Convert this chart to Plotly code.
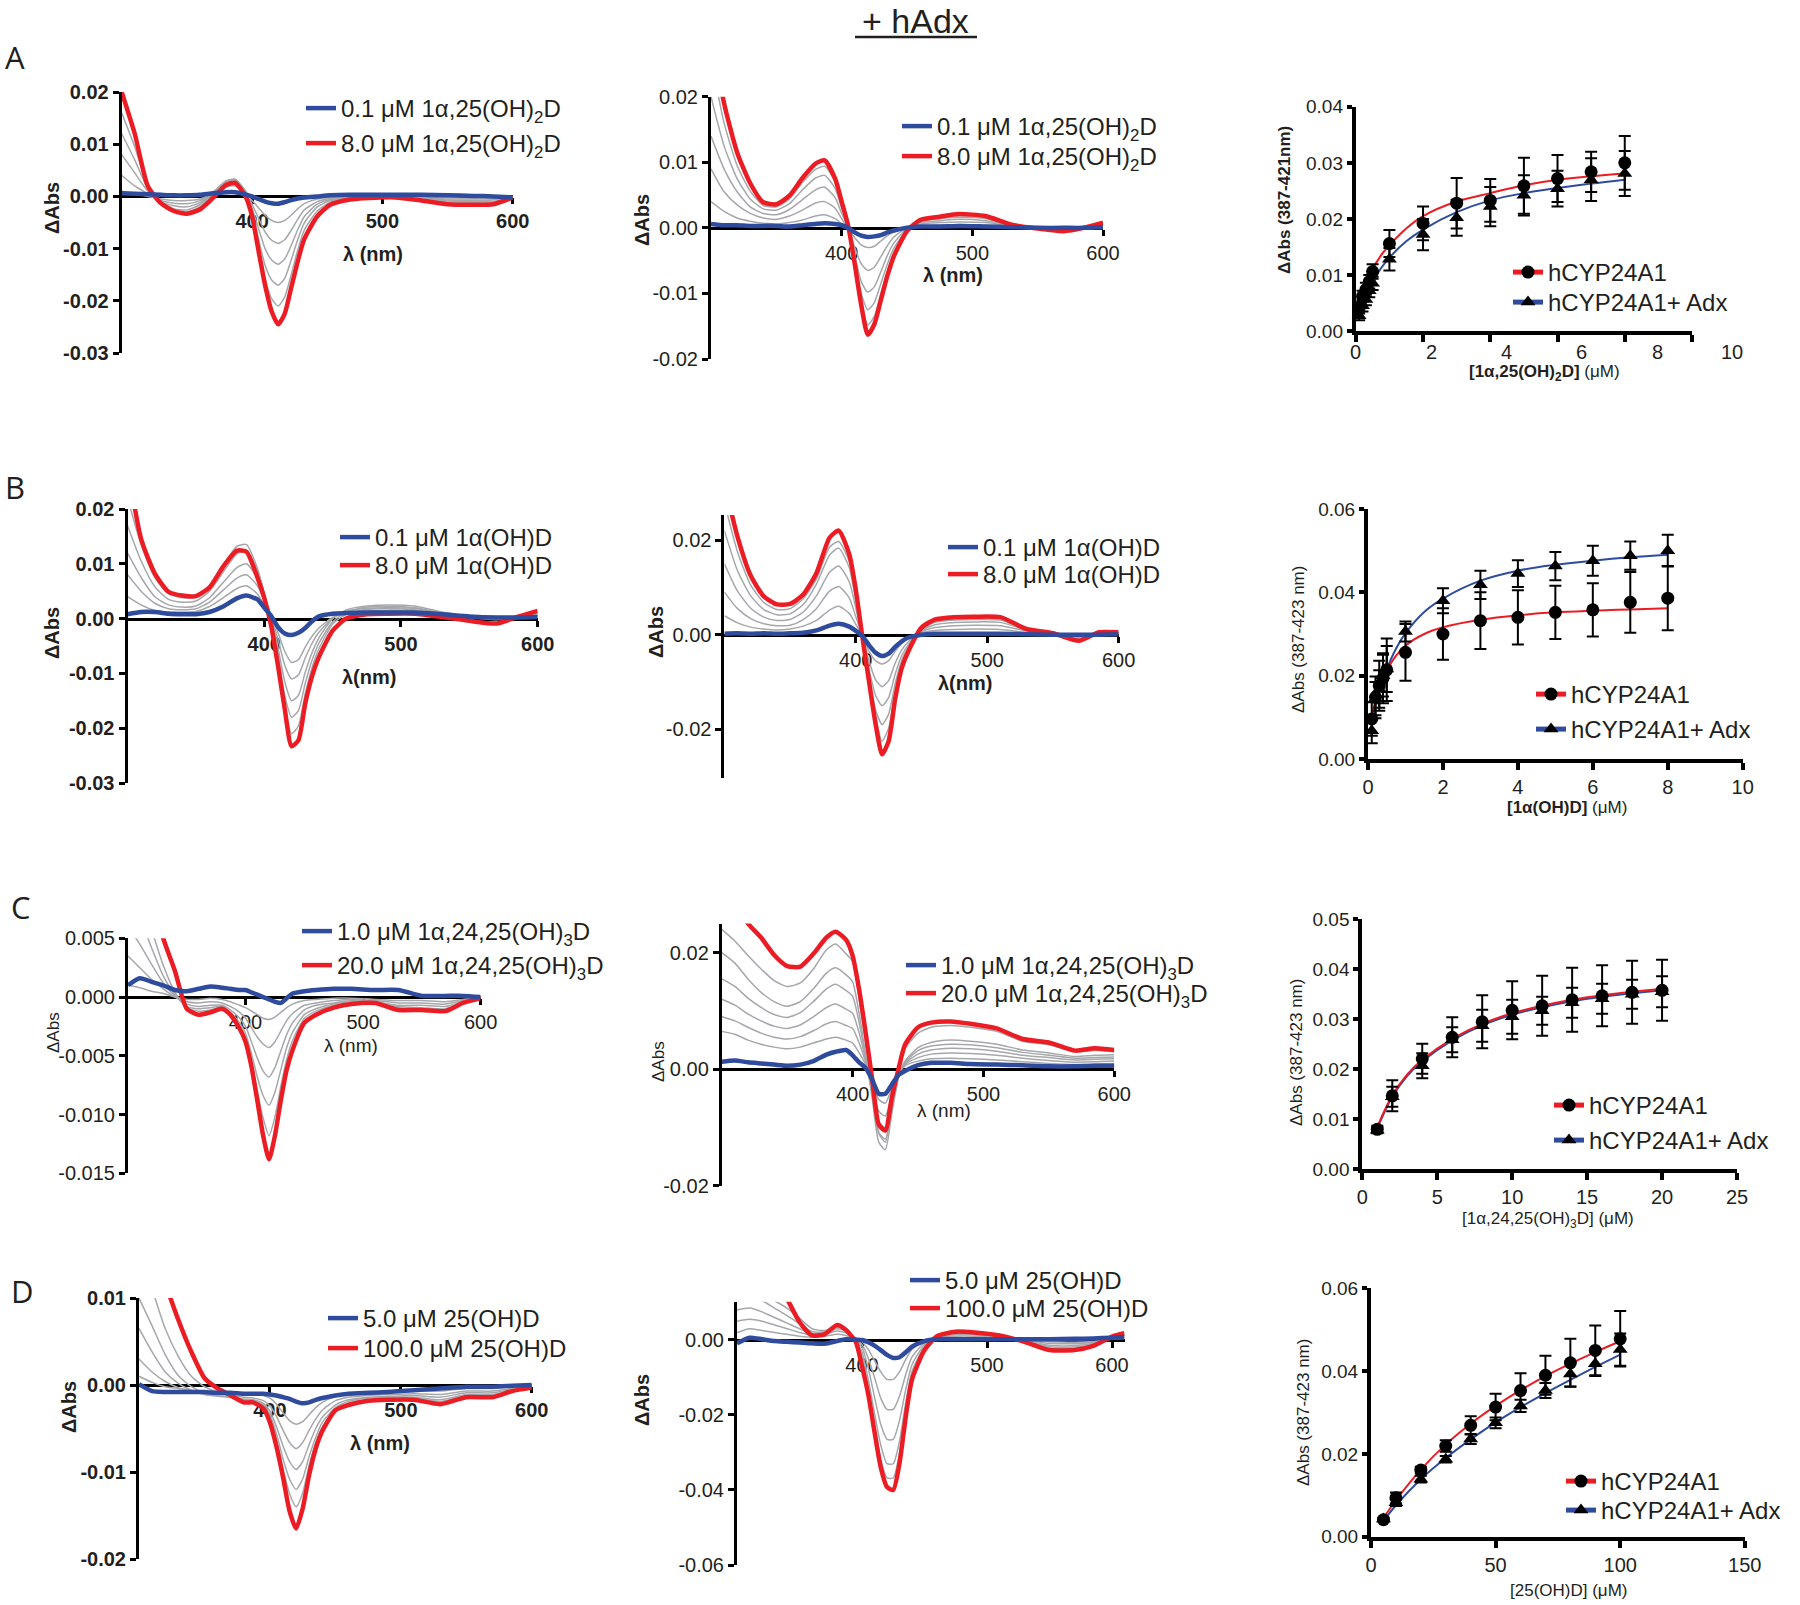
import plotly.graph_objects as go

W, H = 1800, 1605
FONT = "Liberation Sans, Arial, sans-serif"
INK = "#231f20"
RED = "#ec1c24"
BLUE = "#2f4b9d"
GRAY = "#a5a7aa"

WL = [300, 310, 320, 330, 340, 350, 360, 370, 380, 387, 395, 400, 405, 410, 415,
      420, 425, 430, 435, 440, 450, 460, 475, 490, 510, 530, 550, 570, 585, 600]
WL_D2 = WL + [610]

# ---- A: 1a,25(OH)2D ----
A1_RED = [0.020, 0.012, 0.002, -0.0013, -0.0028, -0.0033, -0.0025, -0.0003, 0.0022, 0.0026, 0.0, -0.0038, -0.0105, -0.017, -0.022,
          -0.0245, -0.0225, -0.0175, -0.0125, -0.0082, -0.0038, -0.0016, -0.0006, -0.0003, -0.0002, -0.0008, -0.0015, -0.0016, -0.0015, -0.0002]
A1_BLUE = [0.0006, 0.0005, 0.0004, 0.0003, 0.0002, 0.0002, 0.0003, 0.0006, 0.0008, 0.0008, 0.0004, 0.0, -0.0005, -0.001, -0.0013,
           -0.0014, -0.0011, -0.0007, -0.0004, -0.0002, 0.0, 0.0002, 0.0003, 0.0003, 0.0003, 0.0003, 0.0002, 0.0001, 0.0, -0.0002]
A1_GRAY = [
    [0.001, 0.0005, 0.0, -0.0005, -0.0008, -0.0008, -0.0005, 0.0005, 0.0018, 0.002, 0.0005, -0.0008, -0.0022, -0.0036, -0.0046,
     -0.005, -0.0046, -0.0036, -0.0024, -0.0014, -0.0005, -0.0002, 0.0, 0.0001, 0.0001, 0.0, -0.0002, -0.0003, -0.0002, 0.0],
    [0.004, 0.002, 0.0005, -0.0008, -0.0013, -0.0014, -0.0008, 0.0008, 0.0026, 0.0029, 0.001, -0.0015, -0.0042, -0.0068, -0.0084,
     -0.009, -0.0083, -0.0065, -0.0044, -0.0026, -0.001, -0.0004, -0.0001, 0.0, 0.0, -0.0002, -0.0005, -0.0005, -0.0005, 0.0],
    [0.008, 0.0045, 0.001, -0.001, -0.0018, -0.002, -0.0012, 0.0008, 0.0029, 0.0032, 0.001, -0.0022, -0.0062, -0.0100, -0.0122,
     -0.013, -0.012, -0.0094, -0.0064, -0.0039, -0.0015, -0.0006, -0.0003, -0.0001, 0.0, -0.0003, -0.0007, -0.0008, -0.0007, 0.0],
    [0.012, 0.007, 0.0015, -0.0012, -0.0024, -0.0026, -0.0016, 0.0006, 0.003, 0.0033, 0.0009, -0.003, -0.0082, -0.0132, -0.016,
     -0.017, -0.0157, -0.0122, -0.0083, -0.0051, -0.002, -0.0008, -0.0004, -0.0002, -0.0001, -0.0004, -0.0009, -0.001, -0.001, -0.0001],
    [0.016, 0.0095, 0.002, -0.0014, -0.0027, -0.003, -0.002, 0.0003, 0.0029, 0.0032, 0.0007, -0.0035, -0.0098, -0.0158, -0.0196,
     -0.021, -0.0193, -0.015, -0.0103, -0.0065, -0.0028, -0.0011, -0.0005, -0.0002, -0.0001, -0.0005, -0.0011, -0.0012, -0.0012, -0.0001],
]
A2_RED = [0.030, 0.019, 0.0115, 0.0068, 0.0039, 0.0036, 0.0049, 0.0076, 0.0098, 0.0103, 0.0075, 0.004, 0.0003, -0.0055, -0.0118,
          -0.0163, -0.0147, -0.011, -0.0073, -0.0043, -0.0005, 0.0012, 0.0017, 0.0021, 0.0018, 0.0005, -0.0001, -0.0005, 0.0, 0.0008]
A2_BLUE = [0.0006, 0.0004, 0.0004, 0.0003, 0.0003, 0.0003, 0.0002, 0.0004, 0.0006, 0.0007, 0.0006, 0.0004, 0.0, -0.0007, -0.0012,
           -0.0014, -0.0013, -0.0011, -0.0007, -0.0004, 0.0, 0.0002, 0.0002, 0.0003, 0.0002, 0.0001, 0.0, 0.0, 0.0, 0.0001]
A2_GRAY = [
    [0.004, 0.0025, 0.0015, 0.001, 0.0007, 0.0006, 0.0008, 0.0012, 0.0018, 0.002, 0.0014, 0.0006, -0.0003, -0.0015, -0.0026,
     -0.003, -0.0028, -0.002, -0.0012, -0.0006, 0.0, 0.0003, 0.0004, 0.0005, 0.0004, 0.0002, 0.0, -0.0001, 0.0, 0.0002],
    [0.009, 0.0055, 0.0035, 0.0022, 0.0015, 0.0013, 0.0018, 0.0027, 0.0038, 0.004, 0.003, 0.0014, -0.0002, -0.003, -0.0055,
     -0.0065, -0.006, -0.0044, -0.0027, -0.0014, 0.0, 0.0006, 0.0008, 0.0009, 0.0008, 0.0003, 0.0, -0.0002, 0.0, 0.0003],
    [0.014, 0.009, 0.0055, 0.0032, 0.0022, 0.002, 0.0028, 0.0043, 0.0058, 0.0062, 0.0046, 0.0022, -0.0001, -0.0042, -0.0082,
     -0.0098, -0.009, -0.0067, -0.0042, -0.0023, -0.0001, 0.0008, 0.0011, 0.0013, 0.0011, 0.0004, 0.0, -0.0003, 0.0, 0.0004],
    [0.020, 0.0125, 0.0075, 0.0044, 0.0029, 0.0027, 0.0037, 0.0058, 0.0076, 0.008, 0.006, 0.003, 0.0001, -0.005, -0.0100,
     -0.0125, -0.0114, -0.0085, -0.0055, -0.0031, -0.0003, 0.001, 0.0014, 0.0016, 0.0014, 0.0004, 0.0, -0.0004, 0.0, 0.0005],
    [0.026, 0.016, 0.0095, 0.0056, 0.0034, 0.0032, 0.0044, 0.0069, 0.0089, 0.0094, 0.007, 0.0036, 0.0002, -0.0053, -0.0112,
     -0.0148, -0.0135, -0.0100, -0.0066, -0.0038, -0.0004, 0.0011, 0.0016, 0.0019, 0.0016, 0.0005, 0.0, -0.0005, 0.0, 0.0006],
]

# ---- B: 1a(OH)D ----
B1_RED = [0.028, 0.0145, 0.0082, 0.0049, 0.0042, 0.0041, 0.0057, 0.0095, 0.0124, 0.0122, 0.0075, 0.0038, -0.0012, -0.0085, -0.0165,
          -0.0233, -0.0222, -0.0155, -0.0105, -0.007, -0.0022, 0.0, 0.0008, 0.0009, 0.0009, 0.0003, -0.0004, -0.0009, 0.0003, 0.0014]
B1_BLUE = [0.0008, 0.0012, 0.0012, 0.0009, 0.0008, 0.0008, 0.0012, 0.0022, 0.0037, 0.0042, 0.0035, 0.002, 0.0005, -0.0015, -0.0027,
           -0.003, -0.0026, -0.0017, -0.0005, 0.0004, 0.0009, 0.001, 0.0011, 0.0011, 0.0011, 0.0008, 0.0004, 0.0002, 0.0002, 0.0003]
B1_GRAY = [
    [0.004, 0.0025, 0.0015, 0.0012, 0.0012, 0.0013, 0.0022, 0.0038, 0.0055, 0.006, 0.0045, 0.0025, 0.0005, -0.0025, -0.006,
     -0.008, -0.0075, -0.0052, -0.0032, -0.0017, 0.0002, 0.001, 0.0014, 0.0015, 0.0014, 0.0008, 0.0003, 0.0001, 0.0002, 0.0003],
    [0.008, 0.005, 0.0028, 0.0018, 0.0016, 0.0018, 0.003, 0.0052, 0.0074, 0.008, 0.006, 0.0033, 0.0004, -0.0037, -0.0085,
     -0.011, -0.0103, -0.0072, -0.0045, -0.0025, 0.0001, 0.0013, 0.0019, 0.002, 0.0019, 0.001, 0.0004, 0.0001, 0.0002, 0.0004],
    [0.012, 0.0075, 0.004, 0.0025, 0.0021, 0.0023, 0.0038, 0.0066, 0.0093, 0.010, 0.0074, 0.004, 0.0003, -0.0052, -0.0115,
     -0.015, -0.014, -0.0098, -0.0062, -0.0035, 0.0, 0.0016, 0.0023, 0.0025, 0.0023, 0.0012, 0.0004, 0.0001, 0.0003, 0.0005],
    [0.017, 0.0105, 0.0058, 0.0035, 0.003, 0.0032, 0.005, 0.0085, 0.0118, 0.0125, 0.0088, 0.0046, 0.0, -0.0065, -0.0140,
     -0.018, -0.0168, -0.0118, -0.0076, -0.0045, -0.0006, 0.0012, 0.0021, 0.0022, 0.002, 0.001, 0.0003, 0.0, 0.0003, 0.0006],
    [0.022, 0.0135, 0.0075, 0.0045, 0.0038, 0.0039, 0.0058, 0.0097, 0.0132, 0.0135, 0.0092, 0.0046, -0.0005, -0.0077, -0.0162,
     -0.021, -0.0196, -0.0137, -0.0089, -0.0055, -0.001, 0.0008, 0.0017, 0.0018, 0.0016, 0.0007, 0.0002, -0.0002, 0.0003, 0.0008],
]
B2_RED = [0.032, 0.0207, 0.0125, 0.0081, 0.0064, 0.0065, 0.0085, 0.0130, 0.0205, 0.0220, 0.017, 0.0095, -0.0005, -0.0098, -0.0188,
          -0.0253, -0.0225, -0.0135, -0.007, -0.0035, 0.0015, 0.0032, 0.0037, 0.0038, 0.0037, 0.0012, 0.0003, -0.0013, 0.0005, 0.0005]
B2_BLUE = [0.0002, 0.0003, 0.0002, 0.0003, 0.0002, 0.0003, 0.0004, 0.0009, 0.0019, 0.0023, 0.0017, 0.0008, -0.0003, -0.0022, -0.0038,
           -0.0045, -0.004, -0.0026, -0.0014, -0.0006, 0.0, 0.0002, 0.0002, 0.0002, 0.0002, 0.0001, 0.0, 0.0, 0.0, 0.0001]
B2_GRAY = [
    [0.004, 0.0025, 0.0016, 0.0012, 0.001, 0.0012, 0.0018, 0.003, 0.0052, 0.006, 0.0045, 0.0022, -0.0003, -0.0035, -0.0055,
     -0.0062, -0.0055, -0.0035, -0.0018, -0.0008, 0.0004, 0.0009, 0.0011, 0.0012, 0.0011, 0.0005, 0.0001, -0.0002, 0.0, 0.0002],
    [0.009, 0.0055, 0.0034, 0.0023, 0.0019, 0.002, 0.0032, 0.0055, 0.0092, 0.0102, 0.0078, 0.0038, -0.0003, -0.0055, -0.0095,
     -0.011, -0.0097, -0.006, -0.0032, -0.0015, 0.0006, 0.0015, 0.0019, 0.002, 0.0019, 0.0008, 0.0002, -0.0004, 0.0002, 0.0003],
    [0.015, 0.0092, 0.0056, 0.0037, 0.003, 0.0032, 0.0048, 0.0082, 0.0132, 0.0145, 0.0112, 0.0056, -0.0004, -0.0072, -0.0128,
     -0.015, -0.0133, -0.0083, -0.0044, -0.0021, 0.0008, 0.0021, 0.0026, 0.0027, 0.0026, 0.001, 0.0002, -0.0006, 0.0003, 0.0004],
    [0.022, 0.0135, 0.0082, 0.0053, 0.0042, 0.0044, 0.0064, 0.0107, 0.0168, 0.0183, 0.0142, 0.0072, -0.0004, -0.0085, -0.0158,
     -0.019, -0.0168, -0.0103, -0.0054, -0.0026, 0.001, 0.0026, 0.0031, 0.0032, 0.0031, 0.0011, 0.0002, -0.0008, 0.0004, 0.0004],
    [0.028, 0.0175, 0.0105, 0.0068, 0.0053, 0.0055, 0.0076, 0.0118, 0.0185, 0.0197, 0.0155, 0.008, -0.0004, -0.0092, -0.0172,
     -0.0225, -0.0198, -0.0120, -0.0063, -0.003, 0.0012, 0.0029, 0.0034, 0.0035, 0.0034, 0.0011, 0.0003, -0.001, 0.0004, 0.0005],
]

# ---- C: 1a,24,25(OH)3D ----
C1_RED = [0.018, 0.013, 0.009, 0.005, 0.0022, -0.001, -0.0015, -0.0013, -0.001, -0.0015, -0.0027, -0.0038, -0.0059, -0.0088, -0.0118,
          -0.0138, -0.0118, -0.0088, -0.0062, -0.0045, -0.0022, -0.0015, -0.0009, -0.0006, -0.0005, -0.0011, -0.0011, -0.0012, -0.0005, -0.0001]
C1_BLUE = [0.001, 0.0016, 0.0013, 0.001, 0.0006, 0.0005, 0.0007, 0.0009, 0.0008, 0.0007, 0.0006, 0.0006, 0.0004, 0.0002, 0.0,
           -0.0002, -0.0004, -0.0005, -0.0001, 0.0003, 0.0005, 0.0006, 0.0007, 0.0007, 0.0006, 0.0006, 0.0001, 0.0001, 0.0001, 0.0]
C1_GRAY = [
    [0.001, 0.0008, 0.0005, 0.0003, 0.0, -0.0002, -0.0002, -0.0001, -0.0002, -0.0004, -0.0007, -0.0009, -0.0012, -0.0015, -0.0018,
     -0.0019, -0.0017, -0.0013, -0.0009, -0.0006, -0.0003, -0.0002, -0.0001, -0.0001, -0.0002, -0.0003, -0.0003, -0.0004, -0.0002, 0.0],
    [0.0035, 0.0025, 0.0015, 0.0007, 0.0, -0.0004, -0.0005, -0.0004, -0.0005, -0.0008, -0.0013, -0.0018, -0.0026, -0.0034, -0.004,
     -0.0043, -0.0038, -0.0029, -0.002, -0.0014, -0.0007, -0.0005, -0.0003, -0.0002, -0.0003, -0.0005, -0.0005, -0.0006, -0.0003, 0.0],
    [0.006, 0.0045, 0.0028, 0.0012, 0.0001, -0.0006, -0.0008, -0.0007, -0.0007, -0.0011, -0.0018, -0.0025, -0.0038, -0.0052, -0.0063,
     -0.0068, -0.006, -0.0046, -0.0032, -0.0022, -0.0011, -0.0007, -0.0005, -0.0003, -0.0004, -0.0007, -0.0007, -0.0008, -0.0004, 0.0],
    [0.009, 0.0068, 0.0042, 0.0018, 0.0002, -0.0008, -0.001, -0.0009, -0.0008, -0.0013, -0.0022, -0.0031, -0.0048, -0.0068, -0.0084,
     -0.0092, -0.0081, -0.0062, -0.0043, -0.003, -0.0015, -0.001, -0.0006, -0.0004, -0.0004, -0.0008, -0.0009, -0.001, -0.0005, 0.0],
    [0.012, 0.0092, 0.0058, 0.0027, 0.0004, -0.0009, -0.0012, -0.0011, -0.0009, -0.0014, -0.0025, -0.0035, -0.0054, -0.0080, -0.0103,
     -0.0118, -0.0102, -0.0076, -0.0053, -0.0037, -0.0018, -0.0012, -0.0007, -0.0005, -0.0005, -0.0009, -0.001, -0.0011, -0.0005, 0.0],
]
C2_RED = [0.034, 0.029, 0.025, 0.0226, 0.0196, 0.0177, 0.0176, 0.0198, 0.0226, 0.0236, 0.0222, 0.0195, 0.0136, 0.0062, -0.0018,
          -0.0095, -0.0105, -0.0048, 0.0, 0.0042, 0.0072, 0.008, 0.0082, 0.0078, 0.007, 0.0052, 0.0046, 0.0032, 0.0036, 0.0033]
C2_BLUE = [0.0013, 0.0015, 0.0012, 0.001, 0.0008, 0.0006, 0.0008, 0.0014, 0.0025, 0.003, 0.0033, 0.0024, 0.0012, 0.0002, -0.0018,
           -0.0042, -0.0042, -0.0026, -0.001, -0.0003, 0.0007, 0.0011, 0.0011, 0.0009, 0.0008, 0.0007, 0.0005, 0.0005, 0.0006, 0.0006]
C2_GRAY = [
    [0.0065, 0.006, 0.005, 0.0043, 0.0038, 0.0035, 0.0038, 0.0045, 0.0052, 0.0055, 0.005, 0.0045, 0.0028, 0.0008, -0.0022,
     -0.0052, -0.0058, -0.0032, -0.0008, 0.0006, 0.0014, 0.0018, 0.0019, 0.0018, 0.0016, 0.0013, 0.001, 0.0008, 0.0009, 0.001],
    [0.009, 0.0083, 0.0072, 0.0062, 0.0055, 0.0052, 0.0056, 0.0066, 0.0078, 0.0082, 0.0075, 0.007, 0.0045, 0.0012, -0.003,
     -0.0072, -0.008, -0.0044, -0.001, 0.0008, 0.002, 0.0026, 0.0028, 0.0027, 0.0024, 0.0019, 0.0015, 0.0012, 0.0013, 0.0014],
    [0.012, 0.011, 0.0095, 0.0083, 0.0074, 0.007, 0.0076, 0.009, 0.0106, 0.0112, 0.0103, 0.0096, 0.0062, 0.0016, -0.0038,
     -0.009, -0.0100, -0.0055, -0.0012, 0.001, 0.0026, 0.0033, 0.0036, 0.0035, 0.0031, 0.0024, 0.002, 0.0016, 0.0017, 0.0018],
    [0.0155, 0.0142, 0.0122, 0.0106, 0.0094, 0.0089, 0.0097, 0.0116, 0.0138, 0.0146, 0.0135, 0.0125, 0.008, 0.002, -0.0045,
     -0.0108, -0.012, -0.0066, -0.0014, 0.0012, 0.0032, 0.004, 0.0043, 0.0042, 0.0037, 0.0029, 0.0024, 0.0019, 0.002, 0.0021],
    [0.020, 0.0182, 0.0155, 0.0132, 0.0116, 0.0108, 0.0116, 0.0138, 0.0165, 0.0174, 0.0162, 0.015, 0.0095, 0.0024, -0.005,
     -0.0125, -0.0138, -0.0075, -0.0015, 0.0014, 0.0037, 0.0046, 0.005, 0.0048, 0.0043, 0.0033, 0.0028, 0.0022, 0.0024, 0.0025],
    [0.024, 0.022, 0.0195, 0.0172, 0.0152, 0.0142, 0.0148, 0.0172, 0.0205, 0.0215, 0.0198, 0.0185, 0.012, 0.0045, -0.0035,
     -0.011, -0.0125, -0.0062, -0.0004, 0.0035, 0.0062, 0.0072, 0.0075, 0.0072, 0.0065, 0.0048, 0.0042, 0.003, 0.0032, 0.003],
]

# ---- D: 25(OH)D ----
D1_RED = [0.022, 0.017, 0.0118, 0.0075, 0.0038, 0.0008, -0.0004, -0.0012, -0.002, -0.002, -0.0027, -0.0043, -0.0071, -0.0106, -0.0145,
          -0.0165, -0.0142, -0.0103, -0.0073, -0.0053, -0.0029, -0.0023, -0.0018, -0.0017, -0.0017, -0.0022, -0.0014, -0.0014, -0.0007, -0.0003]
D1_BLUE = [0.0001, -0.0007, -0.0008, -0.0008, -0.0008, -0.0008, -0.0009, -0.0009, -0.001, -0.001, -0.001, -0.0011, -0.0012, -0.0014, -0.0016,
           -0.0019, -0.0021, -0.002, -0.0017, -0.0015, -0.0012, -0.001, -0.0009, -0.0008, -0.0006, -0.0004, -0.0002, -0.0002, -0.0001, 0.0]
D1_GRAY = [
    [0.001, 0.0003, -0.0002, -0.0004, -0.0006, -0.0008, -0.0008, -0.0009, -0.001, -0.001, -0.0012, -0.0015, -0.0022, -0.0032, -0.0041,
     -0.0045, -0.0042, -0.0034, -0.0026, -0.002, -0.0013, -0.001, -0.0009, -0.0008, -0.0007, -0.0007, -0.0004, -0.0004, -0.0002, 0.0],
    [0.003, 0.0015, 0.0004, -0.0003, -0.0007, -0.001, -0.0011, -0.0012, -0.0014, -0.0015, -0.0018, -0.0024, -0.0036, -0.0052, -0.0066,
     -0.0073, -0.0066, -0.0052, -0.0039, -0.0029, -0.0018, -0.0014, -0.0012, -0.0011, -0.001, -0.0011, -0.0007, -0.0007, -0.0004, 0.0],
    [0.0065, 0.0038, 0.0015, 0.0002, -0.0006, -0.0011, -0.0013, -0.0014, -0.0016, -0.0017, -0.0021, -0.003, -0.0048, -0.007, -0.0088,
     -0.0097, -0.0088, -0.0068, -0.005, -0.0037, -0.0023, -0.0017, -0.0014, -0.0013, -0.0012, -0.0014, -0.0009, -0.0009, -0.0005, -0.0001],
    [0.010, 0.0068, 0.0035, 0.0011, -0.0002, -0.0009, -0.0012, -0.0014, -0.0017, -0.0018, -0.0023, -0.0034, -0.0056, -0.0085, -0.0108,
     -0.0120, -0.0108, -0.0082, -0.006, -0.0043, -0.0026, -0.0019, -0.0015, -0.0014, -0.0014, -0.0017, -0.0011, -0.0011, -0.0006, -0.0002],
    [0.015, 0.011, 0.0065, 0.0033, 0.001, -0.0002, -0.0008, -0.0012, -0.0017, -0.0018, -0.0024, -0.0037, -0.0062, -0.0096, -0.0125,
     -0.0140, -0.0124, -0.0092, -0.0066, -0.0048, -0.0028, -0.0021, -0.0017, -0.0016, -0.0015, -0.0019, -0.0012, -0.0012, -0.0006, -0.0002],
]
D2_RED = [0.04, 0.032, 0.024, 0.017, 0.011, 0.0048, 0.0012, 0.0015, 0.004, 0.0027, -0.0005, -0.007, -0.0145, -0.0245, -0.034,
          -0.0392, -0.040, -0.0329, -0.0205, -0.0105, -0.0027, 0.001, 0.0022, 0.002, 0.0012, -0.0005, -0.0027, -0.0027, -0.0016, 0.0009, 0.0018]
D2_BLUE = [-0.0009, 0.0006, 0.0002, -0.0003, -0.0005, -0.0007, -0.0009, -0.001, -0.0003, 0.0002, 0.0001, 0.0, -0.0006, -0.0015, -0.0027,
           -0.004, -0.0048, -0.0046, -0.0033, -0.0018, -0.0003, 0.0002, 0.0002, 0.0002, 0.0002, 0.0002, 0.0002, 0.0003, 0.0004, 0.0006, 0.0007]
D2_GRAY = [
    [0.002, 0.003, 0.0025, 0.002, 0.0015, 0.001, 0.0007, 0.001, 0.0015, 0.0012, 0.0003, -0.0005, -0.0025, -0.0055, -0.0085,
     -0.0105, -0.0105, -0.0085, -0.0052, -0.0025, -0.0004, 0.0004, 0.0006, 0.0006, 0.0004, 0.0, -0.0005, -0.0006, -0.0004, 0.0002, 0.0004],
    [0.005, 0.0055, 0.005, 0.004, 0.003, 0.002, 0.0012, 0.0015, 0.0024, 0.0019, 0.0003, -0.0012, -0.0048, -0.01, -0.0155,
     -0.0185, -0.0185, -0.015, -0.0092, -0.0045, -0.0008, 0.0006, 0.001, 0.001, 0.0007, 0.0, -0.0009, -0.001, -0.0006, 0.0003, 0.0007],
    [0.008, 0.0085, 0.0075, 0.006, 0.0045, 0.003, 0.0017, 0.002, 0.003, 0.0024, 0.0002, -0.002, -0.0075, -0.0152, -0.0225,
     -0.0265, -0.0265, -0.0215, -0.0132, -0.0066, -0.0013, 0.0008, 0.0014, 0.0014, 0.0009, -0.0001, -0.0014, -0.0015, -0.0009, 0.0004, 0.001],
    [0.011, 0.0115, 0.0105, 0.0085, 0.0065, 0.0043, 0.0022, 0.0022, 0.0034, 0.0027, 0.0, -0.0032, -0.0105, -0.0195, -0.028,
     -0.033, -0.033, -0.027, -0.0167, -0.0084, -0.0018, 0.0009, 0.0017, 0.0016, 0.001, -0.0002, -0.0018, -0.0019, -0.0012, 0.0005, 0.0012],
    [0.015, 0.0145, 0.013, 0.0105, 0.0085, 0.0058, 0.003, 0.0025, 0.0037, 0.0028, -0.0002, -0.0045, -0.0125, -0.0225, -0.0318,
     -0.0368, -0.0368, -0.0302, -0.0187, -0.0095, -0.0022, 0.001, 0.0019, 0.0018, 0.0011, -0.0003, -0.0022, -0.0023, -0.0014, 0.0006, 0.0014],
]

# ---- binding titrations (mean, sd) and fitted curves ----
A3_CONC = [0.1, 0.2, 0.3, 0.4, 0.5, 1, 2, 3, 4, 5, 6, 7, 8]
A3_CYP = [0.0041, 0.0062, 0.0074, 0.0088, 0.0106, 0.0156, 0.0192, 0.0228, 0.0233, 0.0259, 0.0272, 0.0284, 0.0300]
A3_CYP_SD = [0.001, 0.001, 0.0012, 0.0012, 0.0013, 0.0024, 0.003, 0.0045, 0.0038, 0.005, 0.0042, 0.0036, 0.0048]
A3_ADX = [0.0027, 0.0045, 0.0056, 0.0072, 0.0085, 0.0128, 0.0172, 0.0202, 0.0222, 0.0242, 0.0254, 0.0270, 0.0281]
A3_ADX_SD = [0.0008, 0.001, 0.001, 0.0012, 0.0012, 0.002, 0.0028, 0.0032, 0.0035, 0.0036, 0.0032, 0.0038, 0.004]
A3_FIT_X = [0.1, 0.25, 0.5, 0.75, 1, 1.5, 2, 3, 4, 5, 6, 7, 8]
A3_FIT_CYP = [0.0035, 0.0072, 0.011, 0.0135, 0.0153, 0.0183, 0.0205, 0.0231, 0.0246, 0.026, 0.027, 0.0276, 0.0281]
A3_FIT_ADX = [0.0026, 0.0055, 0.0088, 0.0112, 0.0131, 0.016, 0.0181, 0.0212, 0.0233, 0.0246, 0.0255, 0.0263, 0.027]
A3_TICKS = [0, 2, 4, 6, 8, 10]

B3_CONC = [0.1, 0.2, 0.3, 0.4, 0.5, 1, 2, 3, 4, 5, 6, 7, 8]
B3_CYP = [0.0096, 0.0148, 0.0176, 0.0194, 0.0214, 0.0256, 0.030, 0.0332, 0.034, 0.0352, 0.0358, 0.0376, 0.0386]
B3_CYP_SD = [0.004, 0.005, 0.006, 0.006, 0.0075, 0.0068, 0.0062, 0.0068, 0.0065, 0.0064, 0.0064, 0.0073, 0.0077]
B3_ADX = [0.0068, 0.0145, 0.0168, 0.020, 0.0216, 0.0306, 0.038, 0.0418, 0.0445, 0.0463, 0.0476, 0.0488, 0.0500]
B3_ADX_SD = [0.003, 0.004, 0.0045, 0.005, 0.0055, 0.0024, 0.003, 0.0034, 0.0032, 0.0034, 0.0036, 0.0034, 0.0038]
B3_FIT_X = [0.1, 0.25, 0.5, 0.75, 1, 1.5, 2, 3, 4, 5, 6, 7, 8]
B3_FIT_CYP = [0.0100, 0.0158, 0.0212, 0.0248, 0.0272, 0.0300, 0.0316, 0.0334, 0.0345, 0.0352, 0.0356, 0.0359, 0.0362]
B3_FIT_ADX = [0.0088, 0.0150, 0.0215, 0.0265, 0.0302, 0.0353, 0.0385, 0.0428, 0.0452, 0.0466, 0.0476, 0.0484, 0.0490]

C3_CONC = [1, 2, 4, 6, 8, 10, 12, 14, 16, 18, 20]
C3_CYP = [0.0080, 0.0147, 0.0221, 0.0264, 0.0295, 0.0318, 0.0327, 0.0339, 0.0347, 0.0354, 0.0358]
C3_CYP_SD = [0.0007, 0.0031, 0.003, 0.004, 0.0053, 0.0058, 0.006, 0.0064, 0.0061, 0.0063, 0.0061]
C3_ADX = [0.0078, 0.0145, 0.0207, 0.0259, 0.0287, 0.0305, 0.0317, 0.0333, 0.0341, 0.035, 0.0355]
C3_ADX_SD = [0.0006, 0.002, 0.0025, 0.0025, 0.0032, 0.0034, 0.0028, 0.003, 0.003, 0.0029, 0.0031]
C3_FIT_X = [1, 2, 3, 4, 6, 8, 10, 12, 14, 16, 18, 20]
C3_FIT_CYP = [0.0085, 0.0148, 0.0190, 0.0219, 0.0261, 0.0291, 0.0312, 0.0327, 0.0339, 0.0348, 0.0355, 0.0361]
C3_FIT_ADX = [0.0082, 0.0145, 0.0187, 0.0216, 0.0258, 0.0288, 0.0309, 0.0324, 0.0336, 0.0345, 0.0352, 0.0358]

D3_CONC = [5, 10, 20, 30, 40, 50, 60, 70, 80, 90, 100]
D3_CYP = [0.0041, 0.0094, 0.0161, 0.0219, 0.0269, 0.0313, 0.0353, 0.0390, 0.0420, 0.0450, 0.0478]
D3_CYP_SD = [0.0004, 0.0013, 0.0008, 0.0014, 0.0022, 0.0032, 0.0042, 0.0047, 0.0058, 0.0060, 0.0067]
D3_ADX = [0.0043, 0.0082, 0.0139, 0.0187, 0.0236, 0.0275, 0.0316, 0.0353, 0.0393, 0.0418, 0.0452]
D3_ADX_SD = [0.0003, 0.0008, 0.0008, 0.0008, 0.0012, 0.0013, 0.0015, 0.0018, 0.0030, 0.0030, 0.0039]
D3_FIT_X = [5, 10, 20, 30, 40, 50, 60, 70, 80, 90, 100]
D3_FIT_CYP = [0.0045, 0.0088, 0.0162, 0.0223, 0.0273, 0.0316, 0.0354, 0.0388, 0.0418, 0.0446, 0.0472]
D3_FIT_ADX = [0.0038, 0.0076, 0.0139, 0.0190, 0.0235, 0.0276, 0.0313, 0.0347, 0.0379, 0.0410, 0.0440]

LIG_A = "1α,25(OH)<sub>2</sub>D"
LIG_B = "1α(OH)D"
LIG_C = "1α,24,25(OH)<sub>3</sub>D"
LIG_D = "25(OH)D"


def px_x(p):
    return p / W


def px_y(p):
    return 1 - p / H


fig = go.Figure()
layout = {}
annotations = []
shapes = []
legend_count = [0]


def names(n):
    s = "" if n == 1 else str(n)
    return "x" + s, "y" + s, "xaxis" + s, "yaxis" + s


def text(x, y, s, size, bold=False, angle=0):
    annotations.append(dict(x=px_x(x), y=px_y(y), xref="paper", yref="paper",
                            text=s, showarrow=False, textangle=angle, xanchor="center", yanchor="middle",
                            font=dict(family=FONT, size=size, color=INK, weight="bold" if bold else "normal")))


def new_legend(text_left, row, size=24):
    # one legend per entry so every row sits where the original puts it
    legend_count[0] += 1
    key = "legend" if legend_count[0] == 1 else "legend%d" % legend_count[0]
    layout[key] = dict(x=px_x(text_left - 40), y=px_y(row - 23), xanchor="left", yanchor="top",
                       bgcolor="rgba(0,0,0,0)", borderwidth=0, itemwidth=30, tracegroupgap=0,
                       font=dict(family=FONT, size=size, color=INK))
    return key


def axis_common(bold, lw, size=20):
    return dict(showline=True, linecolor="black", linewidth=lw, ticks="outside", tickcolor="black",
                tickwidth=lw, showgrid=False, zeroline=False, fixedrange=True,
                tickfont=dict(family=FONT, size=size, color=INK, weight="bold" if bold else "normal"))


def spectrum(n, box, xr, yr, yticks, wl, grays, blue, red, labels, leg, bold):
    xa, ya, xk, yk = names(n)
    x0, x1, yt, yb = box
    for g in grays:
        fig.add_trace(go.Scatter(x=wl, y=g, mode="lines", line=dict(color=GRAY, width=1.5, shape="spline", smoothing=0.6),
                                 xaxis=xa, yaxis=ya, showlegend=False, hoverinfo="skip"))
    fig.add_trace(go.Scatter(x=wl, y=red, mode="lines", name=labels[1], legend=new_legend(leg[0], leg[2]),
                             line=dict(color=RED, width=4.5, shape="spline", smoothing=0.6), xaxis=xa, yaxis=ya))
    fig.add_trace(go.Scatter(x=wl, y=blue, mode="lines", name=labels[0], legend=new_legend(leg[0], leg[1]),
                             line=dict(color=BLUE, width=4.5, shape="spline", smoothing=0.6), xaxis=xa, yaxis=ya))
    ydom = [px_y(yb), px_y(yt)]
    zero = ydom[0] + (0 - yr[0]) / (yr[1] - yr[0]) * (ydom[1] - ydom[0])
    xa_cfg = axis_common(bold, 3)
    xa_cfg.update(domain=[px_x(x0), px_x(x1)], range=xr, anchor="free", position=zero, ticklen=6,
                  tickvals=[400, 500, 600], ticktext=["400", "500", "600"], layer="below traces")
    ya_cfg = axis_common(bold, 3)
    ya_cfg.update(domain=ydom, range=yr, anchor=xa, ticklen=6, tickvals=yticks[0], ticktext=yticks[1])
    layout[xk] = xa_cfg
    layout[yk] = ya_cfg


def binding(n, box, xr, yr, xticks, yticks, conc, cyp, cyp_sd, adx, adx_sd, fit_x, fit_cyp, fit_adx, leg,
            show_xlabels=True):
    xa, ya, xk, yk = names(n)
    x0, x1, yt, yb = box
    fig.add_trace(go.Scatter(x=fit_x, y=fit_adx, mode="lines", line=dict(color=BLUE, width=2, shape="spline"),
                             xaxis=xa, yaxis=ya, showlegend=False))
    fig.add_trace(go.Scatter(x=fit_x, y=fit_cyp, mode="lines", line=dict(color=RED, width=2, shape="spline"),
                             xaxis=xa, yaxis=ya, showlegend=False))
    fig.add_trace(go.Scatter(x=conc, y=adx, mode="markers", xaxis=xa, yaxis=ya, showlegend=False, cliponaxis=False,
                             marker=dict(symbol="triangle-up", size=13, color="black"),
                             error_y=dict(type="data", array=adx_sd, color="black", thickness=2, width=6)))
    fig.add_trace(go.Scatter(x=conc, y=cyp, mode="markers", xaxis=xa, yaxis=ya, showlegend=False, cliponaxis=False,
                             marker=dict(symbol="circle", size=13, color="black"),
                             error_y=dict(type="data", array=cyp_sd, color="black", thickness=2, width=6)))
    # legend-only entries: coloured fit line with the black data symbol
    fig.add_trace(go.Scatter(x=[None], y=[None], mode="lines+markers", name="hCYP24A1",
                             legend=new_legend(leg[0], leg[1]),
                             line=dict(color=RED, width=5), marker=dict(symbol="circle", size=13, color="black"),
                             xaxis=xa, yaxis=ya))
    fig.add_trace(go.Scatter(x=[None], y=[None], mode="lines+markers", name="hCYP24A1+ Adx",
                             legend=new_legend(leg[0], leg[2]),
                             line=dict(color=BLUE, width=5), marker=dict(symbol="triangle-up", size=13, color="black"),
                             xaxis=xa, yaxis=ya))
    xa_cfg = axis_common(False, 4)
    xa_cfg.update(domain=[px_x(x0), px_x(x1)], range=xr, anchor=ya, ticklen=7, tickvals=xticks,
                  ticktext=[str(v) for v in xticks], showticklabels=show_xlabels)
    ya_cfg = axis_common(False, 4, size=19)
    ya_cfg.update(domain=[px_y(yb), px_y(yt)], range=yr, anchor=xa, ticklen=5, tickvals=yticks[0], ticktext=yticks[1])
    layout[xk] = xa_cfg
    layout[yk] = ya_cfg


def yt(vals, fmt):
    return [vals, [("-" if v < 0 else "") + format(abs(v), fmt) for v in vals]]


# ---------- row A ----------
spectrum(1, (121.7, 512.8, 92, 353), [300, 600], [-0.03, 0.02], yt([-0.03, -0.02, -0.01, 0, 0.01, 0.02], ".2f"),
         WL, A1_GRAY, A1_BLUE, A1_RED, ["0.1 μM " + LIG_A, "8.0 μM " + LIG_A], (341, 109, 144), True)
spectrum(2, (711, 1103, 96.7, 359), [300, 600], [-0.02, 0.02], yt([-0.02, -0.01, 0, 0.01, 0.02], ".2f"),
         WL, A2_GRAY, A2_BLUE, A2_RED, ["0.1 μM " + LIG_A, "8.0 μM " + LIG_A], (937, 127, 157), False)
binding(3, (1355.8, 1692, 106.8, 331), [0, 10], [0, 0.04], A3_TICKS, yt([0, 0.01, 0.02, 0.03, 0.04], ".2f"),
        A3_CONC, A3_CYP, A3_CYP_SD, A3_ADX, A3_ADX_SD, A3_FIT_X, A3_FIT_CYP, A3_FIT_ADX, (1548, 273, 303),
        show_xlabels=False)
# in the original, panel A3's tick labels sit on a slightly stretched scale (label 10 lies past the axis end)
for v in A3_TICKS:
    text(1355.8 + v * 1.12 * (1692 - 1355.8) / 10, 352, str(v), 20)

# ---------- row B ----------
spectrum(4, (127.5, 537.7, 509, 783), [300, 600], [-0.03, 0.02], yt([-0.03, -0.02, -0.01, 0, 0.01, 0.02], ".2f"),
         WL, B1_GRAY, B1_BLUE, B1_RED, ["0.1 μM " + LIG_B, "8.0 μM " + LIG_B], (375, 538, 566), True)
spectrum(5, (724.4, 1118.6, 515, 778), [300, 600], [-0.0303, 0.0253], yt([-0.02, 0, 0.02], ".2f"),
         WL, B2_GRAY, B2_BLUE, B2_RED, ["0.1 μM " + LIG_B, "8.0 μM " + LIG_B], (983, 548, 575), False)
binding(6, (1368, 1742.7, 509, 759), [0, 10], [0, 0.06], [0, 2, 4, 6, 8, 10], yt([0, 0.02, 0.04, 0.06], ".2f"),
        B3_CONC, B3_CYP, B3_CYP_SD, B3_ADX, B3_ADX_SD, B3_FIT_X, B3_FIT_CYP, B3_FIT_ADX, (1571, 695, 730))

# ---------- row C ----------
spectrum(7, (128, 480.6, 938.3, 1173.3), [300, 600], [-0.015, 0.005],
         yt([-0.015, -0.01, -0.005, 0, 0.005], ".3f"),
         WL, C1_GRAY, C1_BLUE, C1_RED, ["1.0 μM " + LIG_C, "20.0 μM " + LIG_C], (337, 932, 966), False)
spectrum(8, (721.8, 1114.3, 923.5, 1185.9), [300, 600], [-0.02, 0.025], yt([-0.02, 0, 0.02], ".2f"),
         WL, C2_GRAY, C2_BLUE, C2_RED, ["1.0 μM " + LIG_C, "20.0 μM " + LIG_C], (941, 966, 994), False)
binding(9, (1362.3, 1737, 919.3, 1169.3), [0, 25], [0, 0.05], [0, 5, 10, 15, 20, 25],
        yt([0, 0.01, 0.02, 0.03, 0.04, 0.05], ".2f"),
        C3_CONC, C3_CYP, C3_CYP_SD, C3_ADX, C3_ADX_SD, C3_FIT_X, C3_FIT_CYP, C3_FIT_ADX, (1589, 1106, 1141))

# ---------- row D ----------
spectrum(10, (139, 531.8, 1298, 1559), [300, 600], [-0.02, 0.01], yt([-0.02, -0.01, 0, 0.01], ".2f"),
         WL, D1_GRAY, D1_BLUE, D1_RED, ["5.0 μM " + LIG_D, "100.0 μM " + LIG_D], (363, 1319, 1349), True)
spectrum(11, (737, 1124.5, 1301.7, 1565), [300, 610], [-0.06, 0.0102], yt([-0.06, -0.04, -0.02, 0], ".2f"),
         WL_D2, D2_GRAY, D2_BLUE, D2_RED, ["5.0 μM " + LIG_D, "100.0 μM " + LIG_D], (945, 1281, 1309), False)
binding(12, (1371, 1744.8, 1288.3, 1536.7), [0, 150], [0, 0.06], [0, 50, 100, 150], yt([0, 0.02, 0.04, 0.06], ".2f"),
        D3_CONC, D3_CYP, D3_CYP_SD, D3_ADX, D3_ADX_SD, D3_FIT_X, D3_FIT_CYP, D3_FIT_ADX, (1601, 1482, 1511))

# axis titles (placed where the original figure puts them)
text(373, 254, "λ (nm)", 20, bold=True)
text(52, 208, "ΔAbs", 20, bold=True, angle=-90)
text(953, 275, "λ (nm)", 20, bold=True)
text(642, 220, "ΔAbs", 20, bold=True, angle=-90)
text(1284, 200, "ΔAbs (387-421nm)", 17, bold=True, angle=-90)
text(1544, 373, "<b>[1α,25(OH)<sub>2</sub>D]</b> (μM)", 17)

text(369, 677, "λ(nm)", 20, bold=True)
text(52, 633, "ΔAbs", 20, bold=True, angle=-90)
text(965, 683, "λ(nm)", 20, bold=True)
text(656, 632, "ΔAbs", 20, bold=True, angle=-90)
text(1298, 640, "ΔAbs (387-423 nm)", 17, angle=-90)
text(1567, 807, "<b>[1α(OH)D]</b> (μM)", 17)

text(351, 1045, "λ (nm)", 19)
text(53, 1033, "ΔAbs", 17, angle=-90)
text(944, 1110, "λ (nm)", 19)
text(658, 1062, "ΔAbs", 17, angle=-90)
text(1296, 1053, "ΔAbs (387-423 nm)", 17, angle=-90)
text(1548, 1220, "[1α,24,25(OH)<sub>3</sub>D] (μM)", 17)

text(380, 1443, "λ (nm)", 20, bold=True)
text(69, 1407, "ΔAbs", 20, bold=True, angle=-90)
text(642, 1400, "ΔAbs", 20, bold=True, angle=-90)
text(1303, 1413, "ΔAbs (387-423 nm)", 17, angle=-90)
text(1568, 1590, "[25(OH)D] (μM)", 17)

# panel letters and header
for letter, lx, ly in [("A", 15, 57), ("B", 15, 487), ("C", 21, 907), ("D", 22, 1291)]:
    annotations.append(dict(x=px_x(lx), y=px_y(ly), xref="paper", yref="paper", text=letter, showarrow=False,
                            xanchor="center", yanchor="middle", font=dict(family="Open Sans", size=31, color=INK)))
annotations.append(dict(x=px_x(916), y=px_y(21), xref="paper", yref="paper", text="+ hAdx", showarrow=False,
                        xanchor="center", yanchor="middle", font=dict(family=FONT, size=34, color=INK)))
shapes.append(dict(type="line", xref="paper", yref="paper", x0=px_x(855), x1=px_x(977), y0=px_y(37), y1=px_y(37),
                   line=dict(color=INK, width=2.5)))

fig.update_layout(width=W, height=H, margin=dict(l=0, r=0, t=0, b=0, autoexpand=False), paper_bgcolor="white",
                  plot_bgcolor="rgba(0,0,0,0)", font=dict(family=FONT, color=INK), hovermode=False,
                  annotations=annotations, shapes=shapes, **layout)

# let the 1800x1605 figure fill the page exactly (no default body margin)
fig.write_html("out.html", config={"displayModeBar": False},
               post_script="document.body.style.margin='0px';")
